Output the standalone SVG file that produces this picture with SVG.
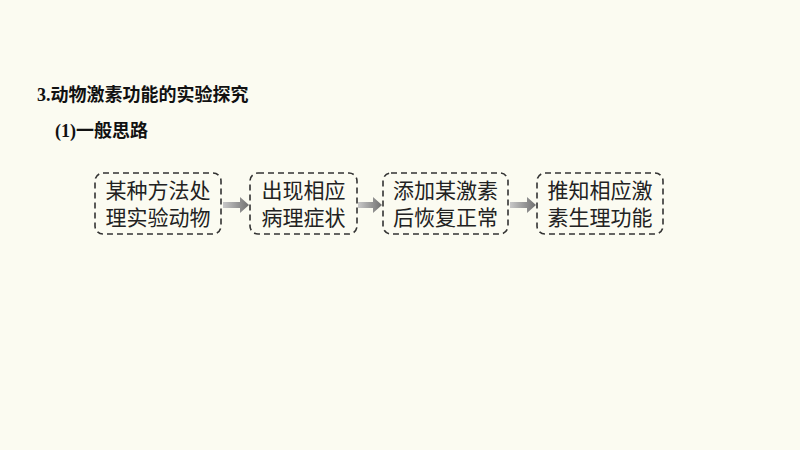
<svg xmlns="http://www.w3.org/2000/svg" width="800" height="450" viewBox="0 0 800 450">
<style>
.b{fill:none;stroke:#333;stroke-width:1.6;stroke-dasharray:6,4}
.t{font-family:"Liberation Serif","Noto Sans CJK SC",serif;font-size:21px;fill:#222}
.h{font-family:"Liberation Serif","Noto Sans CJK SC",serif;font-size:18px;font-weight:bold;fill:#111}
.a{fill:url(#g)}
</style>
<defs><linearGradient id="g" x1="0" x2="1"><stop offset="0" stop-color="#c8c8c8"/><stop offset="1" stop-color="#707070"/></linearGradient></defs>
<rect width="800" height="450" fill="#fbfbf1"/>
<text class="h" x="37" y="101">3.动物激素功能的实验探究</text>
<text class="h" x="55" y="137">(1)一般思路</text>
<g id="n1"><rect class="b" x="95" y="173" width="126" height="61" rx="8"/><text class="t" x="158" y="198" text-anchor="middle">某种方法处</text><text class="t" x="158" y="225" text-anchor="middle">理实验动物</text></g>
<g id="n2"><rect class="b" x="250" y="173" width="107" height="61" rx="8"/><text class="t" x="303.5" y="198" text-anchor="middle">出现相应</text><text class="t" x="303.5" y="225" text-anchor="middle">病理症状</text></g>
<g id="n3"><rect class="b" x="383" y="173" width="125" height="61" rx="8"/><text class="t" x="445.5" y="198" text-anchor="middle">添加某激素</text><text class="t" x="445.5" y="225" text-anchor="middle">后恢复正常</text></g>
<g id="n4"><rect class="b" x="537" y="173" width="126" height="61" rx="8"/><text class="t" x="600" y="198" text-anchor="middle">推知相应激</text><text class="t" x="600" y="225" text-anchor="middle">素生理功能</text></g>
<g id="connectors">
<polygon class="a" points="223,202 240,202 240,197 249,205 240,213 240,208 223,208"/>
<polygon class="a" points="358,202 373,202 373,197 382,205 373,213 373,208 358,208"/>
<polygon class="a" points="510,202 527,202 527,197 536,205 527,213 527,208 510,208"/>
</g>
</svg>
